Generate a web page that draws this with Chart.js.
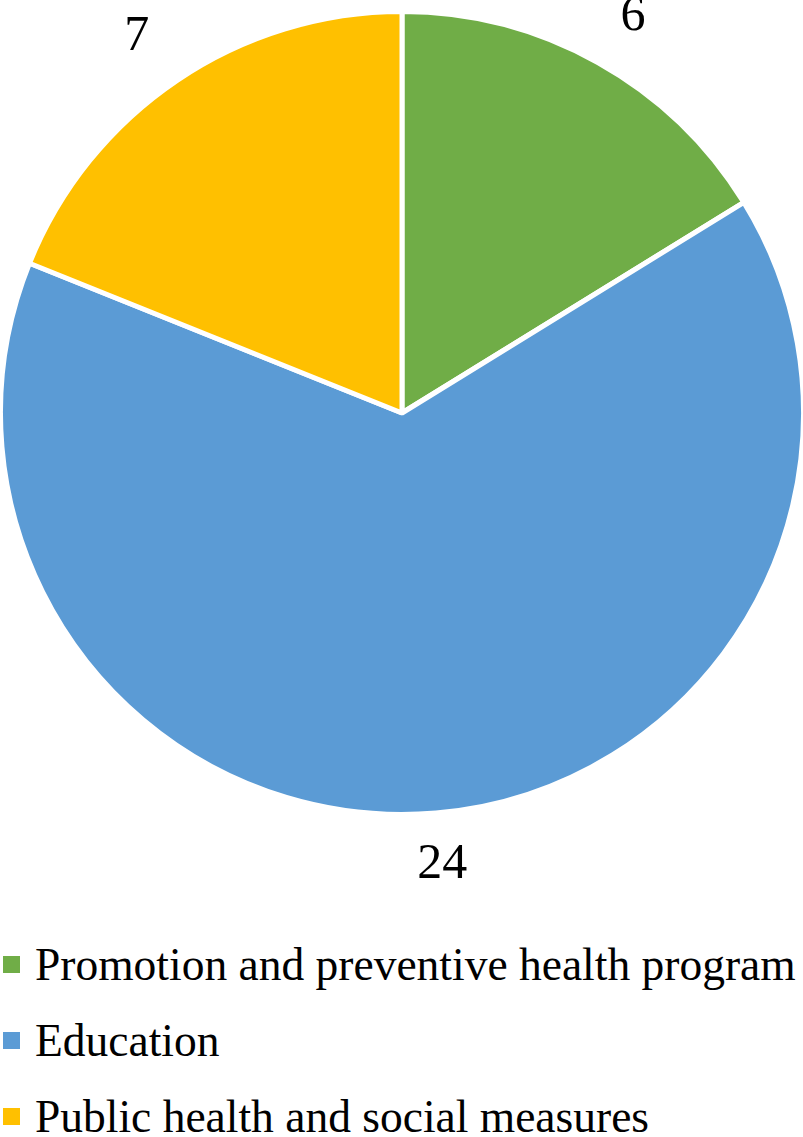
<!DOCTYPE html>
<html>
<head>
<meta charset="utf-8">
<script src="https://cdn.jsdelivr.net/npm/chart.js@4.4.0/dist/chart.umd.min.js"></script>
<style>
    html, body { margin: 0; padding: 0; background: #fff; }
    #wrap { position: relative; width: 803px; height: 1137px; overflow: hidden; }
    #pie { position: absolute; left: -2.5px; top: 0; }
    #legend { position: absolute; left: 3px; top: 926px; }
    .item { display: flex; align-items: center; height: 76px; font-family: "Liberation Serif", "Times New Roman", serif; font-size: 45.5px; color: #000; white-space: nowrap; }
    .box { width: 17px; height: 17px; margin-right: 15px; flex: none; }
</style>
</head>
<body>
<div id="wrap">
    <canvas id="pie" width="808" height="900"></canvas>
    <div id="legend"></div>
</div>
<script>
// Chart data
const categories = ['Promotion and preventive health program', 'Education', 'Public health and social measures'];
const counts = [6, 24, 7];
const colors = ['#70AD47', '#5B9BD5', '#FFC000'];

// Value labels just outside each slice (a bit wider gap sideways than up/down)
const outsideLabels = {
    id: 'outsideLabels',
    afterDatasetsDraw(chart) {
        let ctx = chart.ctx;
        let arcs = chart.getDatasetMeta(0).data;
        ctx.save();
        ctx.font = '50px "Liberation Serif", "Times New Roman", serif';
        ctx.fillStyle = '#000';
        ctx.textAlign = 'center';
        ctx.textBaseline = 'middle';
        arcs.forEach(function(arc, i) {
            let p = arc.getProps(['x', 'y', 'startAngle', 'endAngle', 'outerRadius'], true);
            let mid = (p.startAngle + p.endAngle) / 2;
            let lx = p.x + Math.cos(mid) * (p.outerRadius + 72);
            let ly = p.y + Math.sin(mid) * (p.outerRadius + 52);
            ctx.fillText(String(counts[i]), lx, ly);
        });
        ctx.restore();
    }
};

let ctx = document.getElementById('pie').getContext('2d');
let pieChart = new Chart(ctx, {
    type: 'pie',
    data: {
        labels: categories,
        datasets: [{
            data: counts,
            backgroundColor: colors,
            borderColor: '#ffffff',
            borderWidth: 5
        }]
    },
    options: {
        responsive: false,
        animation: false,
        layout: { padding: { top: 9, bottom: 83, left: 0, right: 0 } },
        plugins: {
            legend: { display: false },
            tooltip: { enabled: false }
        }
    },
    plugins: [outsideLabels]
});

// Legend built from the same arrays
let legend = document.getElementById('legend');
categories.forEach(function(name, i) {
    let row = document.createElement('div');
    row.className = 'item';
    let box = document.createElement('span');
    box.className = 'box';
    box.style.background = colors[i];
    row.appendChild(box);
    row.appendChild(document.createTextNode(name));
    legend.appendChild(row);
});
</script>
</body>
</html>
